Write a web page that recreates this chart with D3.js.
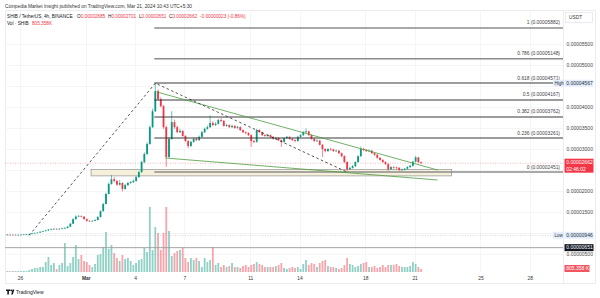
<!DOCTYPE html>
<html><head><meta charset="utf-8">
<script src="https://cdn.jsdelivr.net/npm/d3@7"></script>
<style>
html,body{margin:0;padding:0;background:#fff;}
svg{display:block;font-family:"Liberation Sans",Arial,sans-serif;}
</style></head><body>
<svg id="chart" width="600" height="298"></svg>
<script>
// SHIB/USDT 4h candles, prices in units of 1e-8 USDT, volume in K SHIB
var startTime = Date.UTC(2024, 1, 25, 5, 30);
var candleStep = 4 * 3600 * 1000;
var firstOpen = 955;

var closes = [960,955,958,950,955,960,965,970,975,990,
  1000,1010,1030,1045,1060,1080,1090,1100,1095,1100,
  1110,1120,1150,1220,1330,1390,1400,1390,1330,1290,
  1280,1290,1310,1380,1520,1690,1930,2170,2280,2240,
  2150,2190,2050,2140,2190,2210,2240,2330,2450,2690,
  2880,3120,3520,3900,4380,4190,4020,3520,2810,3240,
  3640,3520,3400,3430,3310,3190,3070,3170,3240,3210,
  3290,3400,3480,3520,3620,3570,3600,3690,3670,3550,
  3570,3520,3550,3500,3520,3450,3400,3380,3330,3190,
  3170,3450,3400,3330,3310,3330,3290,3240,3260,3210,
  3170,3260,3290,3240,3210,3190,3290,3330,3400,3420,
  3330,3240,3190,3200,3100,3000,2950,3000,2990,2950,
  2960,2900,2830,2690,2520,2550,2590,2690,2830,3000,
  2980,2950,2960,2900,2860,2790,2740,2690,2640,2520,
  2570,2560,2550,2500,2510,2530,2570,2600,2700,2800,
  2685,2662];

var highs = [975,968,965,962,960,968,972,978,985,1000,
  1010,1020,1040,1055,1075,1095,1110,1115,1110,1112,
  1125,1140,1170,1240,1350,1420,1430,1420,1400,1345,
  1300,1305,1330,1400,1540,1720,1960,2200,2380,2330,
  2260,2260,2210,2170,2220,2240,2270,2360,2480,2720,
  2920,3160,3560,3960,4567,4420,4230,4050,3560,3280,
  3900,3700,3560,3480,3450,3330,3210,3200,3270,3280,
  3320,3430,3510,3560,3800,3660,3640,3720,3740,3690,
  3600,3590,3580,3570,3550,3540,3470,3420,3400,3350,
  3220,3480,3470,3420,3350,3360,3350,3310,3290,3280,
  3230,3280,3310,3300,3260,3230,3310,3350,3430,3490,
  3440,3350,3260,3230,3220,3120,3020,3020,3030,3010,
  2990,2980,2920,2850,2710,2580,2620,2710,2850,3060,
  3030,3000,2990,2980,2920,2880,2810,2760,2710,2660,
  2590,2590,2580,2570,2530,2550,2590,2620,2720,2830,
  2810,2701];

var lows = [950,948,950,950,948,950,955,960,946,970,
  985,995,1005,1020,1035,1050,1070,1080,1080,1085,
  1090,1100,1110,1140,1210,1320,1380,1370,1320,1270,
  1265,1270,1285,1300,1370,1510,1680,1920,2150,2200,
  2120,2130,1990,2030,2120,2170,2190,2220,2310,2430,
  2660,2860,3100,3500,3880,4150,3990,3480,2570,2790,
  3220,3480,3380,3380,3290,3170,3020,3050,3150,3190,
  3190,3270,3380,3460,3500,3540,3550,3580,3640,3530,
  3530,3500,3500,3480,3480,3430,3380,3350,3310,3050,
  3140,3150,3380,3310,3290,3290,3270,3220,3220,3190,
  3050,3150,3240,3220,3190,3160,3170,3270,3310,3380,
  3310,3220,3170,3170,3080,2810,2920,2930,2960,2930,
  2930,2880,2800,2660,2451,2500,2530,2570,2670,2810,
  2950,2930,2930,2880,2840,2770,2720,2670,2620,2460,
  2500,2530,2520,2470,2480,2490,2510,2550,2580,2680,
  2670,2651];

var volumes = [270,250,280,260,300,270,290,310,540,810,
  1080,1080,1350,1350,2700,4050,1890,2430,810,1890,
  2430,7830,1620,2430,4050,7290,3510,4590,2970,2700,
  1890,1350,2160,4590,4860,6750,10800,6210,7290,5130,
  3780,2970,4590,3510,3780,2970,1890,2430,3240,3510,
  6480,5400,17550,5940,12150,10530,5940,10530,17550,11070,
  4320,5130,5670,5940,6480,3780,2700,3780,3240,3780,
  2970,1350,3780,2700,3240,6750,1890,2430,1350,1890,
  1350,1620,2430,1350,1350,1080,1620,1890,1350,1890,
  2160,2700,2160,1890,1350,1350,1350,1350,1620,1890,
  2430,1080,810,1080,1350,1080,1350,810,2160,3240,
  1890,2430,2160,1350,2430,2970,3240,1620,1350,1350,
  1080,810,1080,1890,3780,2160,1890,1350,1620,2160,
  2430,2700,1350,1350,1620,1080,1350,1890,1350,1890,
  1890,1890,2160,1620,1350,1350,1350,1620,2700,2160,
  1350,805];

var dayTicks = [Date.UTC(2024,1,26), Date.UTC(2024,2,1), Date.UTC(2024,2,4), Date.UTC(2024,2,7),
  Date.UTC(2024,2,11), Date.UTC(2024,2,14), Date.UTC(2024,2,18), Date.UTC(2024,2,21),
  Date.UTC(2024,2,25), Date.UTC(2024,2,28)];
var dayLabels = ['26','Mar','4','7','11','14','18','21','25','28'];
var priceTicks = [500,1500,2000,3000,3500,4000,5000,5500];
var gridPrices = [500,1000,1500,2000,2500,3000,3500,4000,4500,5000,5500];

var fibLevels = ['1','0.786','0.618','0.5','0.382','0.236','0'];
var fibPrices = [5882,5148,4571,4167,3762,3261,2451];

// drawn annotations: [time, price]
var upperTrend = [[Date.UTC(2024,2,5,8,0), 4357], [Date.UTC(2024,2,22,9,30), 2500]];
var lowerTrend = [[Date.UTC(2024,2,5,20,0), 2786], [Date.UTC(2024,2,22,9,30), 2262]];
var zoneTime = [Date.UTC(2024,2,1,7,45), Date.UTC(2024,2,23,6,0)];
var zonePrice = [2510, 2360];
var lastPrice = 2662, lowPrice = 946, highPrice = 4567, hLinePrice = 651;

var candles = closes.map(function(c, i) {
  return {t: startTime + i * candleStep, o: i === 0 ? firstOpen : closes[i-1], c: c,
    h: highs[i], l: lows[i], v: volumes[i]};
});

var svg = d3.select('#chart');
var L = 5, R = 563, T = 10, B = 272;
var x = d3.scaleUtc().domain([Date.UTC(2024,1,26), Date.UTC(2024,2,28)]).range([20, 529.7]);
var y = d3.scaleLinear().domain([500, 5500]).range([254, 44]);
var yv = d3.scaleLinear().domain([0, 18000]).range([272, 205.3]);
var up = '#089981', down = '#f23645';
var fmt = function(p) { return (p * 1e-8).toFixed(8); };

svg.append('defs').append('clipPath').attr('id', 'plot')
  .append('rect').attr('x', L).attr('y', T).attr('width', R - L).attr('height', B - T);

// header
svg.append('text').attr('x', 5).attr('y', 7.5).attr('font-size', 4.8).attr('fill', '#333')
  .text('Coinpedia Market Insight published on TradingView.com, Mar 21, 2024 10:43 UTC+5:30');

// frame
svg.append('rect').attr('x', 5.5).attr('y', 10.5).attr('width', 590).attr('height', 273)
  .attr('fill', 'none').attr('stroke', '#e6e8ee').attr('stroke-width', 0.8);
svg.append('line').attr('x1', R + 0.5).attr('x2', R + 0.5).attr('y1', 10.5).attr('y2', 283.5)
  .attr('stroke', '#e6e8ee').attr('stroke-width', 0.8);

var plot = svg.append('g').attr('clip-path', 'url(#plot)');

// grid
plot.selectAll('.vg').data(dayTicks).enter().append('line')
  .attr('x1', function(d) { return Math.round(x(d)) + 0.5; })
  .attr('x2', function(d) { return Math.round(x(d)) + 0.5; })
  .attr('y1', T).attr('y2', B).attr('stroke', '#f2f3f6').attr('stroke-width', 0.8);
plot.selectAll('.hg').data(gridPrices).enter().append('line')
  .attr('x1', L).attr('x2', R)
  .attr('y1', function(d) { return Math.round(y(d)) + 0.5; })
  .attr('y2', function(d) { return Math.round(y(d)) + 0.5; })
  .attr('stroke', '#f2f3f6').attr('stroke-width', 0.8);

// volume
plot.selectAll('.vol').data(candles).enter().append('rect')
  .attr('x', function(d) { return x(d.t) - 0.9; })
  .attr('width', 1.8)
  .attr('y', function(d) { return yv(d.v); })
  .attr('height', function(d) { return yv(0) - yv(d.v); })
  .attr('fill', function(d) { return d.c >= d.o ? 'rgba(8,153,129,0.45)' : 'rgba(242,54,69,0.45)'; });

// price lines
plot.append('line').attr('x1', L).attr('x2', R).attr('y1', y(hLinePrice)).attr('y2', y(hLinePrice))
  .attr('stroke', '#9a9a9a').attr('stroke-width', 0.9);
plot.append('line').attr('x1', L).attr('x2', R).attr('y1', y(lowPrice)).attr('y2', y(lowPrice))
  .attr('stroke', '#c8b4b4').attr('stroke-width', 0.6).attr('stroke-dasharray', '1,1.5');
plot.append('line').attr('x1', L).attr('x2', R).attr('y1', y(lastPrice)).attr('y2', y(lastPrice))
  .attr('stroke', down).attr('stroke-opacity', 0.6).attr('stroke-width', 0.6).attr('stroke-dasharray', '1,1.5');

// zone box
plot.append('rect').attr('x', x(zoneTime[0])).attr('y', y(zonePrice[0]))
  .attr('width', x(zoneTime[1]) - x(zoneTime[0])).attr('height', y(zonePrice[1]) - y(zonePrice[0]))
  .attr('fill', '#f6f0da').attr('stroke', '#9e9e9e').attr('stroke-width', 0.8);

// candles
var cg = plot.selectAll('.candle').data(candles).enter().append('g');
cg.append('line')
  .attr('x1', function(d) { return x(d.t); }).attr('x2', function(d) { return x(d.t); })
  .attr('y1', function(d) { return y(d.h); }).attr('y2', function(d) { return y(d.l); })
  .attr('stroke', function(d) { return d.c >= d.o ? up : down; }).attr('stroke-width', 0.6);
cg.append('rect')
  .attr('x', function(d) { return x(d.t) - 0.9; }).attr('width', 1.8)
  .attr('y', function(d) { return y(Math.max(d.o, d.c)); })
  .attr('height', function(d) { return Math.max(0.6, Math.abs(y(d.o) - y(d.c))); })
  .attr('fill', function(d) { return d.c >= d.o ? up : down; });

// fib levels
var fibX0 = x(candles[54].t) - 1;
fibPrices.forEach(function(p, k) {
  var heavy = k < 2 || k === 6;
  plot.append('line').attr('x1', fibX0).attr('x2', R).attr('y1', y(p)).attr('y2', y(p))
    .attr('stroke', heavy ? '#8c8c8c' : '#3a3a3a').attr('stroke-width', heavy ? 1.6 : 1.1);
  svg.append('text').attr('x', 560).attr('y', y(p) - 3.5).attr('text-anchor', 'end')
    .attr('font-size', 4.9).attr('fill', '#444').text(fibLevels[k] + ' (' + fmt(p) + ')');
});

// trend lines
var line = d3.line().x(function(d) { return x(d[0]); }).y(function(d) { return y(d[1]); });
plot.append('path').attr('d', line(upperTrend)).attr('fill', 'none').attr('stroke', '#4a9e3f').attr('stroke-width', 0.8);
plot.append('path').attr('d', line(lowerTrend)).attr('fill', 'none').attr('stroke', '#4a9e3f').attr('stroke-width', 0.8);
plot.append('path')
  .attr('d', line([[candles[8].t, candles[8].l], [candles[54].t, candles[54].h], [candles[124].t, candles[124].l]]))
  .attr('fill', 'none').attr('stroke', '#2a2a2a').attr('stroke-width', 0.8).attr('stroke-dasharray', '2.5,2.5');

// legend
var lg = svg.append('text').attr('x', 7).attr('y', 18).attr('font-size', 4.7).attr('fill', '#131722');
lg.append('tspan').text('SHIB / TetherUS, 4h, BINANCE');
[['O', 2685, 77], ['H', 2701, 108], ['L', 2651, 139], ['C', 2662, 169]].forEach(function(d) {
  lg.append('tspan').attr('x', d[2]).text(d[0]);
  lg.append('tspan').attr('fill', down).text(fmt(d[1]));
});
lg.append('tspan').attr('x', 200).attr('fill', down).text('-0.00000023 (-0.86%)');
var vl = svg.append('text').attr('x', 7).attr('y', 25).attr('font-size', 4.7).attr('fill', '#131722');
vl.append('tspan').text('Vol · SHIB');
vl.append('tspan').attr('x', 32).attr('fill', down).text('805.358K');

// time axis
var xa = svg.append('g').attr('transform', 'translate(0,' + 274 + ')')
  .call(d3.axisBottom(x).tickValues(dayTicks).tickSize(0).tickFormat(function(d, i) { return dayLabels[i]; }));
xa.select('.domain').remove();
xa.selectAll('text').attr('font-size', 4.9).attr('fill', '#333').attr('dy', '0.55em')
  .attr('font-weight', function(d, i) { return dayLabels[i] === 'Mar' ? 'bold' : 'normal'; })
  .attr('font-family', '"Liberation Sans",Arial,sans-serif');

// price axis
var ya = svg.append('g').attr('transform', 'translate(' + 565.5 + ',0)')
  .call(d3.axisRight(y).tickValues(priceTicks).tickSize(0).tickPadding(1).tickFormat(fmt));
ya.select('.domain').remove();
ya.selectAll('text').attr('font-size', 5).attr('fill', '#444')
  .attr('font-family', '"Liberation Sans",Arial,sans-serif');

// USDT box
svg.append('rect').attr('x', 565.5).attr('y', 12.5).attr('width', 27).attr('height', 10)
  .attr('fill', '#fff').attr('stroke', '#e0e3eb').attr('stroke-width', 0.7);
svg.append('text').attr('x', 569).attr('y', 19).attr('font-size', 4.8).attr('fill', '#333').text('USDT');

// badges
function badge(p, label, fill, color, tag) {
  var yy = y(p);
  svg.append('rect').attr('x', 564.5).attr('y', yy - 3.5).attr('width', 29).attr('height', 7).attr('fill', fill);
  svg.append('text').attr('x', 566.3).attr('y', yy + 1.8).attr('font-size', 5).attr('fill', color).text(label);
  if (tag) {
    svg.append('rect').attr('x', 553).attr('y', yy - 3.5).attr('width', 11).attr('height', 7).attr('fill', fill);
    svg.append('text').attr('x', 554.5).attr('y', yy + 1.7).attr('font-size', 4.5).attr('fill', '#2a2e39').text(tag);
  }
}
badge(highPrice, fmt(highPrice), '#e3edfb', '#2a2e39', 'High');
badge(lowPrice, fmt(lowPrice), '#e3edfb', '#2a2e39', 'Low');
badge(hLinePrice, fmt(hLinePrice), '#131722', '#fff');
var ly = y(lastPrice);
svg.append('rect').attr('x', 564.5).attr('y', ly - 4.5).attr('width', 29).attr('height', 14).attr('fill', down);
svg.append('text').attr('x', 566.3).attr('y', ly + 1.3).attr('font-size', 5).attr('fill', '#fff').text(fmt(lastPrice));
svg.append('text').attr('x', 566.3).attr('y', ly + 7.7).attr('font-size', 5).attr('fill', '#fff').text('02:46:02');
svg.append('rect').attr('x', 564.5).attr('y', 265).attr('width', 25).attr('height', 7).attr('fill', '#f05560');
svg.append('text').attr('x', 566.3).attr('y', 270.3).attr('font-size', 5).attr('fill', '#fff').text('805.358 K');

// footer logo
var logo = svg.append('g').attr('fill', '#131722');
logo.append('path').attr('d', 'M6,289.5h4.2v1.6h-1.3v3.4h-1.6v-3.4h-1.3z');
logo.append('circle').attr('cx', 11.3).attr('cy', 290.4).attr('r', 0.9);
logo.append('path').attr('d', 'M12.6,289.5h1.8l-1.6,5h-1.6z');
svg.append('text').attr('x', 16).attr('y', 294).attr('font-size', 5).attr('fill', '#131722').text('TradingView');
</script>
</body></html>
